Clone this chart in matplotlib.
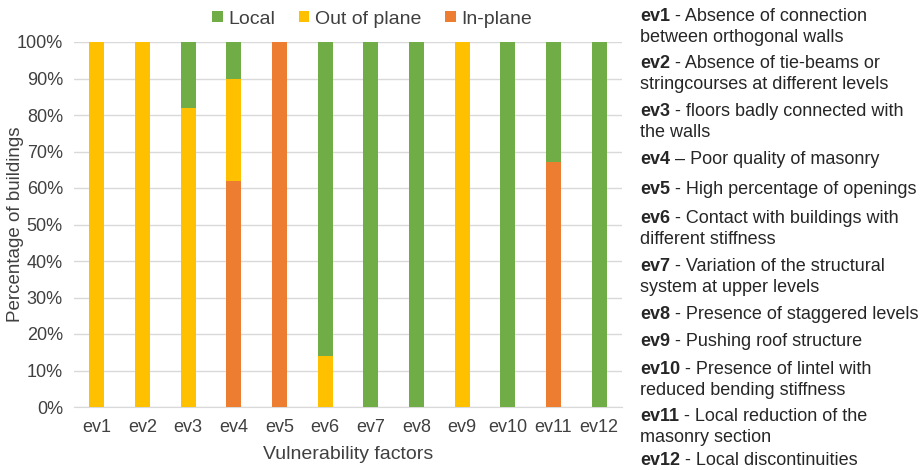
import numpy as np
import matplotlib
matplotlib.use("Agg")
import matplotlib.pyplot as plt

plt.rcParams['font.family'] = ['Liberation Sans', 'DejaVu Sans']

factors = ['ev1', 'ev2', 'ev3', 'ev4', 'ev5', 'ev6',
           'ev7', 'ev8', 'ev9', 'ev10', 'ev11', 'ev12']
in_plane = [0, 0, 0, 62, 100, 0, 0, 0, 0, 0, 67, 0]
out_of_plane = [100, 100, 82, 28, 0, 14, 0, 0, 100, 0, 0, 0]
local = [0, 0, 18, 10, 0, 86, 100, 100, 0, 100, 33, 100]

descr_codes = ['ev1', 'ev2', 'ev3', 'ev4', 'ev5', 'ev6',
               'ev7', 'ev8', 'ev9', 'ev10', 'ev11', 'ev12']
descr_texts = [
    ' - Absence of connection\nbetween orthogonal walls',
    ' - Absence of tie-beams or\nstringcourses at different levels',
    ' - floors badly connected with\nthe walls',
    ' \u2013 Poor quality of masonry',
    ' - High percentage of openings',
    ' - Contact with buildings with\ndifferent stiffness',
    ' - Variation of the structural\nsystem at upper levels',
    ' - Presence of staggered levels',
    ' - Pushing roof structure',
    ' - Presence of lintel with\nreduced bending stiffness',
    ' - Local reduction of the\nmasonry section',
    ' - Local discontinuities',
]
# baseline of first line of each note, pixels from the top
descr_y = [21, 68, 116, 164, 194, 223, 271, 319, 346, 374, 421, 465]

c_local = '#70AD47'
c_out = '#FFC000'
c_in = '#ED7D31'
txt_c = '#404040'

fig = plt.figure(figsize=(9.23, 4.70), dpi=100)
ax = fig.add_axes([74/923, 1 - 407/470, (622 - 74)/923, (407 - 42)/470])

x = np.arange(len(factors))
ip = np.array(in_plane)
op = np.array(out_of_plane)
lo = np.array(local)
w = 0.33
b_in = ax.bar(x, ip, w, color=c_in, label='In-plane', zorder=3)
b_out = ax.bar(x, op, w, bottom=ip, color=c_out, label='Out of plane', zorder=3)
b_loc = ax.bar(x, lo, w, bottom=ip + op, color=c_local, label='Local', zorder=3)

ax.set_xlim(-0.5, len(factors) - 0.5)
ax.set_ylim(0, 100)
ax.set_yticks(np.arange(0, 101, 10))
ax.set_yticklabels([f'{v}%' for v in range(0, 101, 10)], fontsize=13, color=txt_c)
ax.set_xticks(x)
ax.set_xticklabels(factors, fontsize=13, color=txt_c)
ax.tick_params(axis='x', length=0, pad=9)
ax.tick_params(axis='y', length=0, pad=8)
ax.grid(axis='y', color='#D9D9D9', linewidth=1, zorder=0)
for s in ['top', 'right', 'left']:
    ax.spines[s].set_visible(False)
ax.spines['bottom'].set_color('#D9D9D9')

fig.text(16/923, 1 - 224/470, 'Percentage of buildings', rotation=90, fontsize=13.5,
         color=txt_c, ha='center', va='center')
ax.set_xlabel('Vulnerability factors', fontsize=14, color=txt_c, labelpad=7)

fig.legend(handles=[b_loc, b_out, b_in], loc='center', bbox_to_anchor=(372/923, 1 - 19/470),
           ncol=3, frameon=False, fontsize=14, handlelength=0.55, handleheight=0.55,
           handletextpad=0.3, columnspacing=1.2, borderaxespad=0.0,
           labelcolor=txt_c)

for code, txt, yy in zip(descr_codes, descr_texts, descr_y):
    t = fig.text(640/923, 1 - yy/470, code, fontsize=13, fontweight='bold',
                 color='#262626', va='baseline', ha='left')
    first, *rest = txt.split('\n')
    ax.annotate(first, xy=(1, 0), xycoords=t, va='bottom', ha='left',
                fontsize=13, color='#262626', annotation_clip=False)
    if rest:
        fig.text(640/923, 1 - (yy + 21)/470, rest[0], fontsize=13,
                 color='#262626', va='baseline', ha='left')

fig.savefig('out.png', dpi=100)
